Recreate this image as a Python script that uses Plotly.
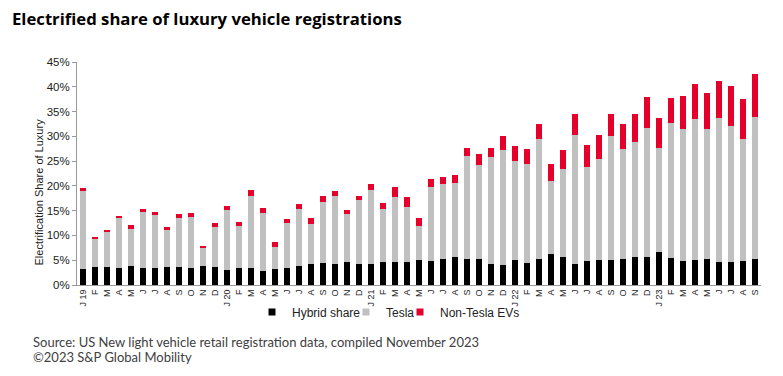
import plotly.graph_objects as go

tick_labels = ["J 19", "F", "M", "A", "M", "J", "J", "A", "S", "O", "N", "D",
               "J 20", "F", "M", "A", "M", "J", "J", "A", "S", "O", "N", "D",
               "J 21", "F", "M", "A", "M", "J", "J", "A", "S", "O", "N", "D",
               "J 22", "F", "M", "A", "M", "J", "J", "A", "S", "O", "N", "D",
               "J 23", "F", "M", "A", "M", "J", "J", "A", "S"]

hybrid = [3.2, 3.6, 3.6, 3.4, 3.8, 3.5, 3.5, 3.6, 3.7, 3.5, 3.8, 3.6,
          3.0, 3.4, 3.4, 2.8, 3.2, 3.4, 3.8, 4.2, 4.5, 4.2, 4.7, 4.2,
          4.2, 4.6, 4.7, 4.7, 5.1, 4.8, 5.2, 5.6, 5.2, 5.2, 4.2, 4.0,
          5.1, 4.4, 5.3, 6.3, 5.7, 4.2, 4.8, 5.0, 5.0, 5.3, 5.6, 5.7,
          6.6, 5.5, 4.8, 5.1, 5.3, 4.7, 4.7, 4.9, 5.2]

tesla = [15.9, 5.8, 7.2, 10.1, 7.6, 11.2, 10.6, 7.6, 9.8, 10.3, 3.6, 8.2,
         12.2, 8.6, 14.6, 11.8, 4.5, 9.2, 11.6, 8.2, 12.3, 13.8, 9.6, 12.9,
         14.9, 10.7, 13.1, 11.1, 6.8, 15.0, 15.1, 15.0, 20.8, 19.1, 21.6, 23.3,
         20.0, 20.1, 24.2, 14.6, 17.7, 26.0, 19.1, 20.5, 25.0, 22.2, 23.2, 25.9,
         21.0, 27.1, 26.6, 28.3, 26.2, 29.1, 27.4, 24.5, 28.7]

non_tesla = [0.4, 0.2, 0.2, 0.5, 0.7, 0.7, 0.7, 0.6, 0.8, 0.7, 0.5, 0.7,
             0.8, 0.7, 1.1, 1.0, 0.9, 0.7, 1.0, 1.1, 1.2, 0.9, 0.9, 0.9,
             1.2, 1.2, 1.9, 1.9, 1.7, 1.5, 1.5, 1.6, 1.7, 2.1, 1.9, 2.7,
             2.9, 2.9, 2.9, 3.5, 3.9, 4.4, 4.3, 4.7, 4.5, 5.0, 5.8, 6.3,
             6.0, 5.1, 6.8, 7.1, 7.3, 7.3, 8.0, 8.2, 8.6]

series_names = ["Hybrid share", "Tesla", "Non-Tesla EVs"]
series_colors = ["#000000", "#c0c0c0", "#e4002b"]

x = list(range(len(tick_labels)))

# plot area in pixels
L, R, T, B = 77, 761, 62, 285
PW, PH = R - L, B - T

def px(xp):
    return (xp - L) / PW

def py(yp):
    return (B - yp) / PH

axis_font = dict(family="Liberation Sans, Arial, sans-serif", color="#222222")

legend_ids = ["legend", "legend2", "legend3"]
legend_text_x = [292, 386, 440]

fig = go.Figure()
for name, vals, col, lid in zip(series_names, [hybrid, tesla, non_tesla], series_colors, legend_ids):
    fig.add_trace(go.Bar(x=x, y=vals, name=name, marker=dict(color=col, line=dict(width=0)),
                         showlegend=False))
    fig.add_trace(go.Scatter(x=[None], y=[None], mode="markers", name=name, legend=lid,
                             marker=dict(symbol="square", size=7, color=col)))

legend_layout = {}
for lid, tx in zip(legend_ids, legend_text_x):
    legend_layout[lid] = dict(orientation="h", x=px(tx - 40), xanchor="left",
                              y=py(312), yanchor="middle", font=dict(size=12, **axis_font),
                              itemwidth=30, bgcolor="rgba(0,0,0,0)", traceorder="normal")

fig.update_layout(
    width=783, height=376,
    margin=dict(l=L, r=783 - R, t=T, b=376 - B),
    paper_bgcolor="white", plot_bgcolor="white",
    barmode="stack", bargap=0.42,
    title=dict(text="Electrified share of luxury vehicle registrations",
               x=12 / 783, xanchor="left", xref="container",
               y=1 - 19 / 376, yanchor="middle", yref="container",
               font=dict(family="Open Sans, sans-serif", size=16.7, weight=700, color="#000000")),
    xaxis=dict(tickmode="array", tickvals=x, ticktext=tick_labels, tickangle=-90,
               range=[-0.5, len(x) - 0.5], showline=True, linecolor="#9a9a9a", linewidth=1,
               ticks="", showgrid=False, zeroline=False,
               tickfont=dict(size=9, **axis_font)),
    yaxis=dict(range=[0, 45], dtick=5, ticksuffix="%", showline=True, linecolor="#9a9a9a",
               linewidth=1, ticks="outside", ticklen=4, tickcolor="#9a9a9a",
               showgrid=False, zeroline=False, tickfont=dict(size=11.5, **axis_font)),
    annotations=[
        dict(text="Electrification Share of Luxury", textangle=-90, showarrow=False,
             xref="paper", yref="paper", x=px(38), y=py(192.5),
             xanchor="center", yanchor="middle", font=dict(size=11, **axis_font)),
        dict(text="Source: US New light vehicle retail registration data, compiled November 2023",
             showarrow=False, align="left", xref="paper", yref="paper",
             x=px(31), y=py(341.5), xanchor="left", yanchor="middle",
             font=dict(family="Lato, sans-serif", size=13, color="#404040")),
        dict(text="©2023 S&P Global Mobility",
             showarrow=False, align="left", xref="paper", yref="paper",
             x=px(31), y=py(356.5), xanchor="left", yanchor="middle",
             font=dict(family="Lato, sans-serif", size=13, color="#404040")),
    ],
    **legend_layout,
)

fig.write_html("out.html", post_script="document.body.style.margin='0';",
               config={"displayModeBar": False})
